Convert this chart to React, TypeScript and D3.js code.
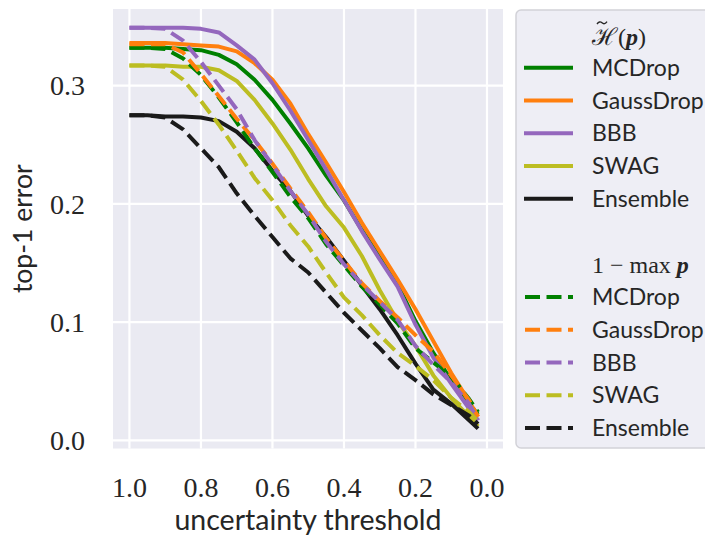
import React from "react"
import * as d3 from "d3"

// thresholds on the x axis (reversed: 1.0 on the left)
const thresholds = [1.0, 0.95, 0.9, 0.85, 0.8, 0.75, 0.7, 0.65, 0.6, 0.55, 0.5, 0.45, 0.4, 0.35, 0.3, 0.25, 0.2, 0.15, 0.1, 0.05, 0.025]

const methods = ["MCDrop", "GaussDrop", "BBB", "SWAG", "Ensemble"]
const colors = ["#008000", "#ff7f0e", "#9467bd", "#bcbd22", "#1a1a1a"]

// H~(p) -- solid
const entMCDrop    = [0.332, 0.332, 0.332, 0.331, 0.330, 0.326, 0.318, 0.305, 0.288, 0.268, 0.247, 0.224, 0.203, 0.178, 0.155, 0.132, 0.101, 0.074, 0.051, 0.031, 0.022]
const entGaussDrop = [0.336, 0.336, 0.336, 0.335, 0.334, 0.333, 0.329, 0.319, 0.305, 0.285, 0.259, 0.235, 0.210, 0.184, 0.160, 0.136, 0.111, 0.084, 0.057, 0.033, 0.020]
const entBBB       = [0.349, 0.349, 0.349, 0.349, 0.348, 0.345, 0.334, 0.322, 0.302, 0.279, 0.254, 0.229, 0.203, 0.177, 0.153, 0.130, 0.098, 0.070, 0.048, 0.027, 0.017]
const entSWAG      = [0.317, 0.317, 0.317, 0.316, 0.316, 0.313, 0.304, 0.288, 0.268, 0.246, 0.221, 0.198, 0.180, 0.156, 0.127, 0.101, 0.080, 0.055, 0.036, 0.020, 0.012]
const entEnsemble  = [0.275, 0.275, 0.274, 0.274, 0.273, 0.270, 0.261, 0.247, 0.228, 0.211, 0.190, 0.172, 0.152, 0.131, 0.111, 0.089, 0.065, 0.043, 0.031, 0.017, 0.010]

// 1 - max p -- dashed
const maxMCDrop    = [0.332, 0.332, 0.331, 0.323, 0.309, 0.290, 0.269, 0.247, 0.227, 0.206, 0.188, 0.166, 0.148, 0.130, 0.115, 0.099, 0.078, 0.066, 0.054, 0.035, 0.024]
const maxGaussDrop = [0.335, 0.335, 0.335, 0.328, 0.310, 0.291, 0.272, 0.254, 0.234, 0.213, 0.193, 0.171, 0.152, 0.133, 0.118, 0.104, 0.089, 0.075, 0.055, 0.034, 0.020]
const maxBBB       = [0.349, 0.349, 0.348, 0.338, 0.320, 0.300, 0.280, 0.254, 0.233, 0.211, 0.191, 0.168, 0.149, 0.132, 0.117, 0.102, 0.080, 0.064, 0.049, 0.031, 0.017]
const maxSWAG      = [0.317, 0.317, 0.316, 0.305, 0.287, 0.267, 0.245, 0.222, 0.203, 0.182, 0.164, 0.142, 0.121, 0.106, 0.089, 0.074, 0.063, 0.051, 0.036, 0.024, 0.016]
const maxEnsemble  = [0.275, 0.275, 0.273, 0.263, 0.247, 0.231, 0.209, 0.190, 0.172, 0.154, 0.142, 0.125, 0.108, 0.093, 0.078, 0.062, 0.051, 0.039, 0.030, 0.021, 0.014]

const entSeries = [entMCDrop, entGaussDrop, entBBB, entSWAG, entEnsemble]
const maxSeries = [maxMCDrop, maxGaussDrop, maxBBB, maxSWAG, maxEnsemble]

const xTicks = [1.0, 0.8, 0.6, 0.4, 0.2, 0.0]
const yTicks = [0.0, 0.1, 0.2, 0.3]

const W = 705
const H = 540
const plot = { left: 113, right: 503, top: 9, bottom: 448.5 }

const serif = "'Liberation Serif', 'Times New Roman', serif"
const sans = "Lato, 'Open Sans', sans-serif"
const bg = "#eaeaf2"
const ink = "#262626"
const lw = 4
const dash = "15,6.5"

const App: React.FC = () => {
  const x = d3.scaleLinear().domain([1.046, -0.0448]).range([plot.left, plot.right])
  const y = d3.scaleLinear().domain([-0.0068, 0.3648]).range([plot.bottom, plot.top])

  const line = d3.line<number>()
    .x((_, i) => x(thresholds[i]))
    .y(d => y(d))
    .curve(d3.curveLinear)

  // legend rows
  const legX = 516
  const rowH = 32.75
  const row0 = 35
  const handleX0 = 524
  const handleX1 = 573
  const textX = 592

  return (
    <div style={{ position: "absolute", left: 0, top: 0 }}>
      <svg width={W} height={H} style={{ display: "block", background: "#fff" }}>
        <rect x={plot.left} y={plot.top} width={plot.right - plot.left} height={plot.bottom - plot.top} fill={bg} />
        {xTicks.map(t => (
          <line key={"gx" + t} x1={x(t)} x2={x(t)} y1={plot.top} y2={plot.bottom} stroke="#fff" strokeWidth={2.2} />
        ))}
        {yTicks.map(t => (
          <line key={"gy" + t} x1={plot.left} x2={plot.right} y1={y(t)} y2={y(t)} stroke="#fff" strokeWidth={2.2} />
        ))}

        <defs>
          <clipPath id="plot-clip">
            <rect x={plot.left} y={plot.top} width={plot.right - plot.left} height={plot.bottom - plot.top} />
          </clipPath>
        </defs>
        <g clipPath="url(#plot-clip)">
          {entSeries.map((s, i) => (
            <path key={"e" + i} d={line(s) || ""} fill="none" stroke={colors[i]} strokeWidth={lw} strokeLinejoin="round" />
          ))}
          {maxSeries.map((s, i) => (
            <path key={"m" + i} d={line(s) || ""} fill="none" stroke={colors[i]} strokeWidth={lw} strokeDasharray={dash} strokeLinejoin="round" />
          ))}
        </g>

        {/* axes text */}
        {yTicks.map(t => (
          <text key={"ty" + t} x={85} y={y(t)} dy="0.35em" textAnchor="end" fontFamily={serif} fontSize={28} fill={ink}>
            {t.toFixed(1)}
          </text>
        ))}
        {xTicks.map(t => (
          <text key={"tx" + t} x={x(t)} y={497} textAnchor="middle" fontFamily={serif} fontSize={28} fill={ink}>
            {t.toFixed(1)}
          </text>
        ))}
        <text x={(plot.left + plot.right) / 2} y={530} textAnchor="middle" fontFamily={sans} fontSize={28.5} fill={ink}>
          uncertainty threshold
        </text>
        <text transform={`translate(31.5, ${(plot.top + plot.bottom) / 2}) rotate(-90)`} textAnchor="middle" fontFamily={sans} fontSize={26.5} fill={ink}>
          top-1 error
        </text>

        {/* legend */}
        <rect x={legX} y={10} width={W - legX + 6} height={438} rx={5} fill="#eeeef5" stroke="#d2d2d8" strokeWidth={1.5} />

        <g fontFamily={serif} fontSize={24} fill={ink}>
          <text x={textX} y={row0 + 2} dy="0.35em">
            <tspan>ℋ</tspan>
            <tspan dx={1}>(</tspan>
            <tspan fontWeight="bold" fontStyle="italic">p</tspan>
            <tspan>)</tspan>
          </text>
          <text x={textX} y={row0 + 7 * rowH} dy="0.35em">
            1 − max <tspan fontWeight="bold" fontStyle="italic">p</tspan>
          </text>
        </g>
        {/* tilde over the H */}
        <path d={`M${textX + 5},${row0 - 11} q2.5,-3.5 5,-1.2 t5,-1.2`} fill="none" stroke={ink} strokeWidth={1.4} />

        {methods.map((m, i) => {
          const cy = row0 + (i + 1) * rowH
          return (
            <g key={"le" + m}>
              <line x1={handleX0} x2={handleX1} y1={cy} y2={cy} stroke={colors[i]} strokeWidth={lw} />
              <text x={textX} y={cy} dy="0.35em" fontFamily={sans} fontSize={23} fill={ink}>{m}</text>
            </g>
          )
        })}
        {methods.map((m, i) => {
          const cy = row0 + (i + 8) * rowH
          return (
            <g key={"lm" + m}>
              <line x1={handleX0 + 1} x2={handleX1} y1={cy} y2={cy} stroke={colors[i]} strokeWidth={lw} strokeDasharray={dash} />
              <text x={textX} y={cy} dy="0.35em" fontFamily={sans} fontSize={23} fill={ink}>{m}</text>
            </g>
          )
        })}
      </svg>
    </div>
  )
}

export default App
